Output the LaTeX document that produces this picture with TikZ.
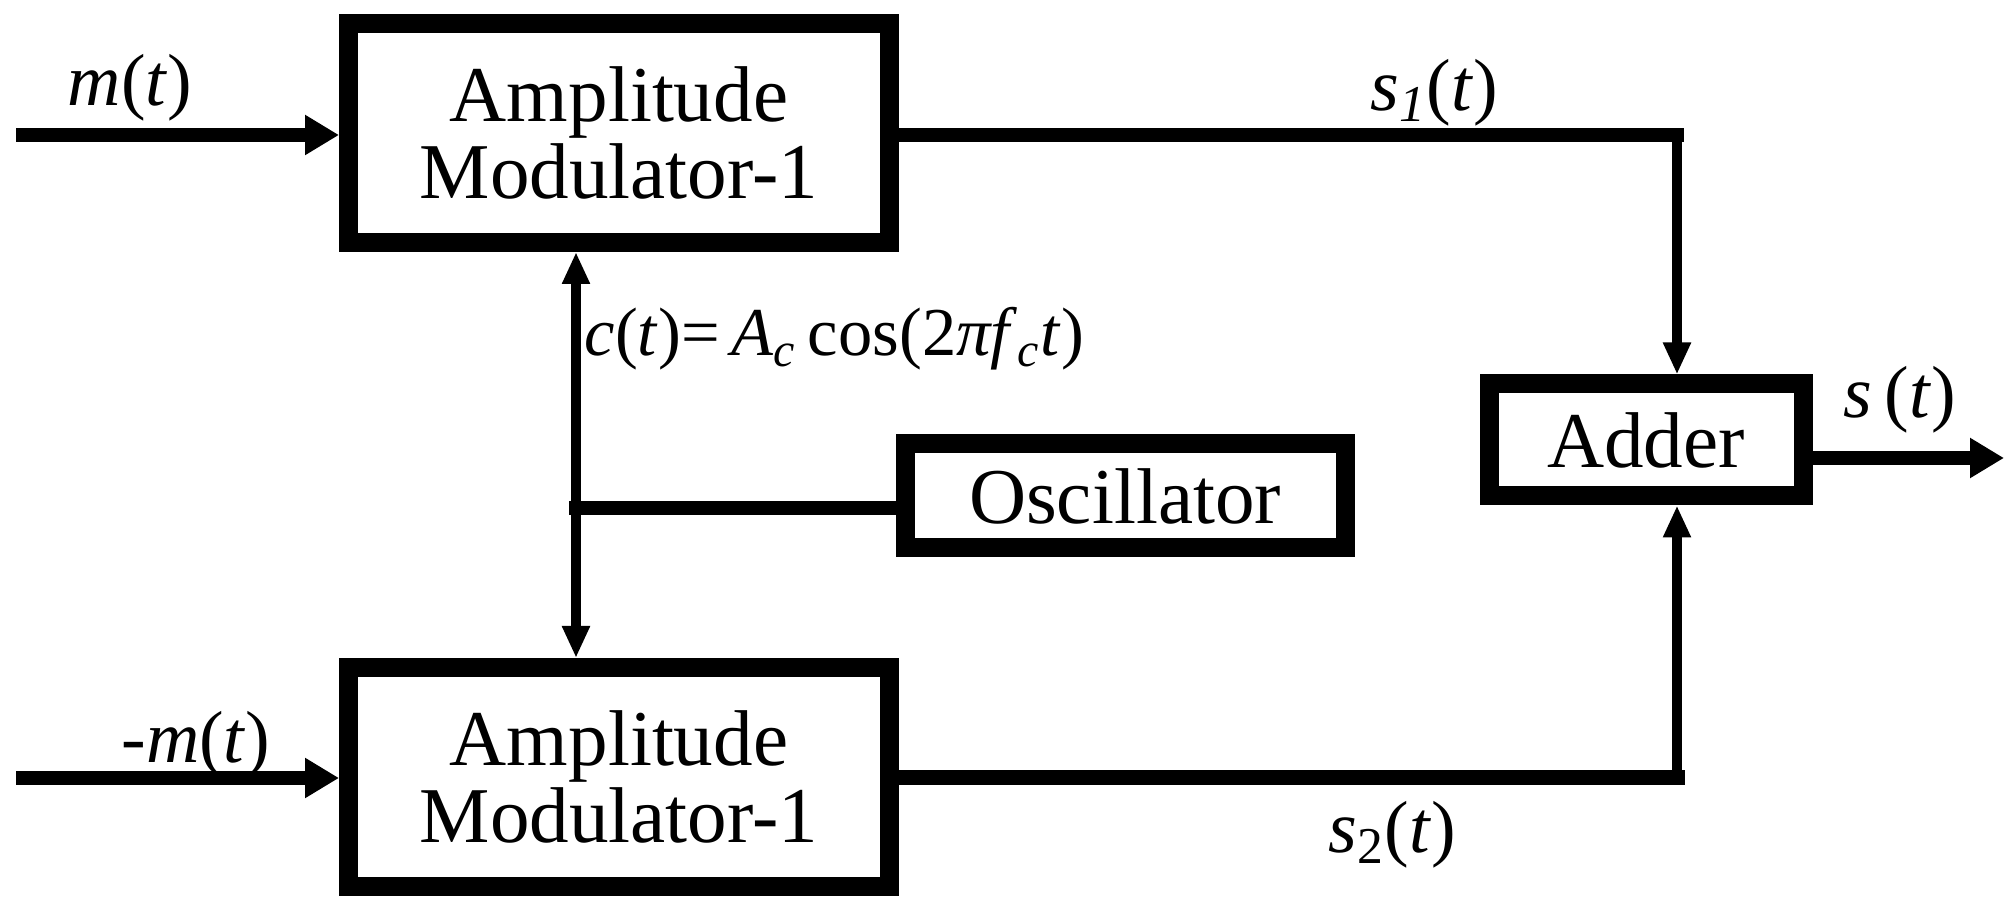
\documentclass[tikz,border=0pt]{standalone}
\usepackage{fontspec}
\setmainfont{Liberation Serif}
\usetikzlibrary{arrows.meta, positioning, calc}

\begin{document}
\begin{tikzpicture}[
    blk/.style={rectangle, draw, line width=1.9mm, align=center, font=\fontsize{22.5}{22}\selectfont},
    modblk/.style={blk, minimum width=5.41cm, minimum height=2.19cm},
    sig/.style={line width=1.45mm, -{Triangle[length=3.4mm, width=3.8mm]}},
    sigline/.style={line width=1.35mm, line cap=rect},
    carrier/.style={line width=1mm, -{Triangle[length=3.2mm, width=2.6mm]}},
    lbl/.style={font=\fontsize{21}{22}\selectfont, inner sep=0pt}
]
\useasboundingbox (0,0) rectangle (20.08,9.03);

% blocks
\node[modblk] (mod1) at (6.19,7.70) {Amplitude\\Modulator-1};
\node[modblk, below=4.06cm of mod1] (mod2) {Amplitude\\Modulator-1};
\node[blk, minimum width=4.40cm, minimum height=1.04cm] (osc) at (11.25,4.07) {Oscillator};
\node[blk, minimum width=3.14cm, minimum height=1.12cm] (adder) at (16.46,4.63) {Adder};

% free ends and corners
\coordinate (min) at (0.16,7.68);
\coordinate (mneg) at (0.16,1.25);
\coordinate (cjoin) at (5.76,3.95);
\coordinate (s1turn) at ([xshift=3.1mm]adder.north |- min);
\coordinate (s2turn) at ([xshift=3.1mm]adder.south |- mneg);
\coordinate (sout) at (20.04,4.45);

% inputs
\draw[sig] (min) -- (mod1.west |- min);
\draw[sig] (mneg) -- (mod2.west |- mneg);

% carrier
\draw[sigline] (osc.west |- cjoin) -- (cjoin);
\draw[carrier] (cjoin) -- (cjoin |- mod1.south);
\draw[carrier] (cjoin) -- (cjoin |- mod2.north);

% outputs to adder
\draw[sigline] (mod1.east |- min) -- (s1turn);
\draw[carrier] (s1turn) -- (s1turn |- adder.north);
\draw[sigline, line width=1.5mm] (mod2.east |- mneg) -- (s2turn);
\draw[carrier] (s2turn) -- (s2turn |- adder.south);
\draw[sig] (adder.east |- sout) -- (sout);

% labels
\node[lbl] (lm) at (1.30,8.15) {\textit{m}(\textit{t})};
\node[lbl] (lmneg) at (1.96,1.58) {-\textit{m}(\textit{t})};
\node[lbl] (ls1) at (14.34,8.10) {\textit{s}\textsubscript{\textit{1}}(\textit{t})};
\node[lbl] (ls2) at (13.92,0.68) {\textit{s}\textsubscript{2}(\textit{t})};
\node[lbl] (ls) at (19.00,5.03) {\textit{s}\,(\textit{t})};
\node[lbl, anchor=west, font=\fontsize{19.5}{21}\selectfont] (lc) at (5.84,5.64) {\textit{c}(\textit{t})=\,\textit{A}\textsubscript{\textit{c}}\,cos(2\textit{πf}\textsubscript{\textit{c}}\textit{t})};
\end{tikzpicture}
\end{document}
